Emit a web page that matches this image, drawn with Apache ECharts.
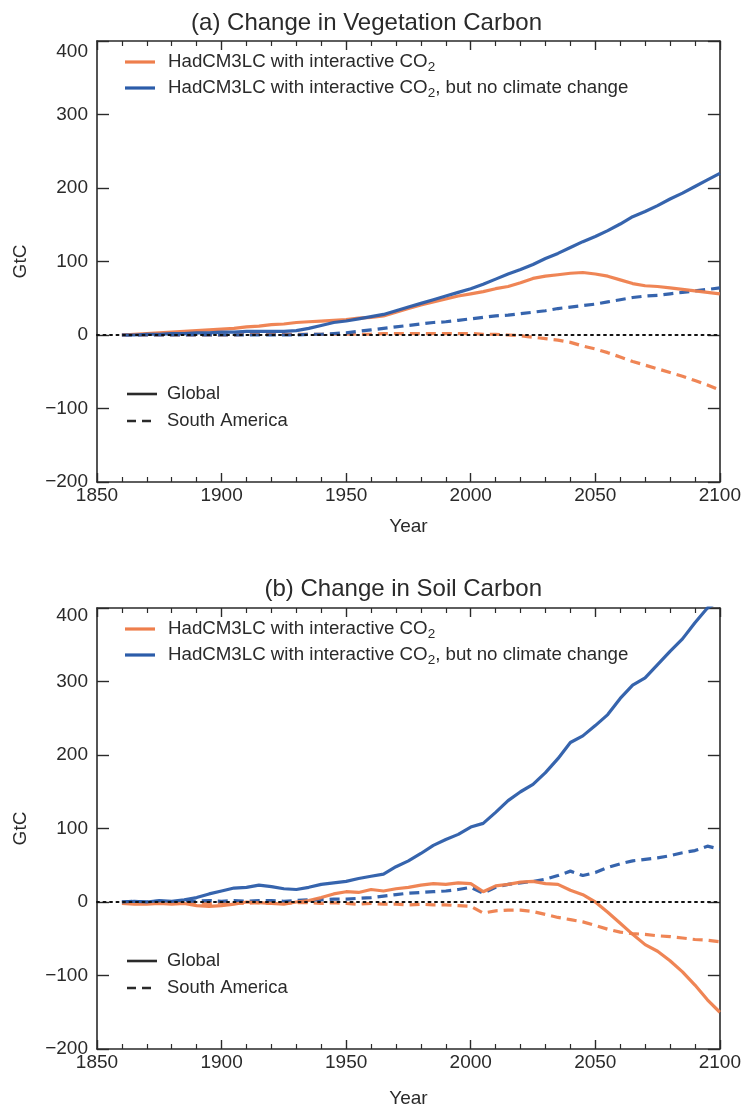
<!DOCTYPE html>
<html>
<head>
<meta charset="utf-8">
<script src="https://cdn.jsdelivr.net/npm/echarts@6/dist/echarts.min.js"></script>
<style>
html,body{margin:0;padding:0;background:#fff;}
#chart{width:744px;height:1111px;}
</style>
</head>
<body>
<div id="chart"></div>
<script>
// ---------- DATA ----------
const years = [1860,1865,1870,1875,1880,1885,1890,1895,1900,1905,1910,1915,1920,1925,1930,1935,1940,1945,1950,1955,1960,1965,1970,1975,1980,1985,1990,1995,2000,2005,2010,2015,2020,2025,2030,2035,2040,2045,2050,2055,2060,2065,2070,2075,2080,2085,2090,2095,2100];

// (a) Change in Vegetation Carbon (GtC)
const vegGlobalInteractive = [0,1,2,3,4,5,6,7,8,9,11,12,14,15,17,18,19,20,21,23,24,26,31,36,41,45,49,53,56,59,63,66,71,77,80,82,84,85,83,80,75,70,67,66,64,62,60,58,56];
const vegGlobalNoCC        = [0,0,1,1,2,2,3,3,4,4,5,5,5,5,6,9,13,17,19,22,25,28,33,38,43,48,53,58,63,69,76,83,89,96,104,111,119,127,134,142,151,161,168,176,185,193,202,211,220];
const vegSAInteractive     = [0,0,0,0,0,0,0,0,0,0,1,1,1,1,1,1,1,1,1,1,1,2,2,2,2,2,2,2,2,1,1,0,-1,-3,-5,-7,-10,-15,-19,-24,-30,-36,-41,-46,-51,-56,-62,-68,-75];
const vegSANoCC            = [0,0,0,0,0,0,0,0,0,0,0,0,0,0,0,1,1,2,3,5,7,9,11,13,15,17,18,20,22,24,26,27,29,31,33,36,38,40,42,45,48,51,53,54,56,58,60,62,64];

// (b) Change in Soil Carbon (GtC)
const soilGlobalInteractive = [-2,-3,-3,-2,-3,-2,-5,-6,-5,-3,0,-1,-2,-3,0,2,6,11,14,13,17,15,18,20,23,25,24,26,25,14,22,24,27,28,25,24,16,10,0,-14,-29,-44,-58,-67,-80,-95,-113,-133,-150];
const soilGlobalNoCC        = [0,1,0,2,1,3,6,11,15,19,20,23,21,18,17,20,24,26,28,32,35,38,48,56,66,77,85,92,102,107,122,138,150,160,176,195,217,226,240,255,277,295,305,323,341,358,380,400,410];
const soilSAInteractive     = [0,-1,-1,-1,0,-1,-1,-2,-1,-1,-2,-1,-2,-2,-1,-1,-2,-1,-2,-3,-2,-3,-3,-4,-3,-4,-4,-5,-6,-15,-12,-11,-11,-13,-17,-21,-24,-27,-32,-37,-41,-43,-44,-46,-47,-49,-51,-52,-54];
const soilSANoCC            = [0,1,0,1,0,1,1,2,1,2,1,2,2,1,2,3,3,4,4,5,6,8,10,12,13,14,15,17,20,12,20,24,26,28,31,36,42,36,40,47,52,56,58,60,63,67,70,76,72];

// axis / text
const panelTitles = ['(a) Change in Vegetation Carbon', '(b) Change in Soil Carbon'];
const xName = 'Year';
const yName = 'GtC';
const seriesLabels = ['HadCM3LC with interactive CO', ', but no climate change'];
const styleLabels = ['Global', 'South America'];

// ---------- STYLE ----------
const ORANGE = '#EE7E4C';
const BLUE = '#2B5CA9';
const INK = '#2a2a2a';
const FONT = '"Liberation Sans", Arial, Helvetica, sans-serif';

const grids = [
  {left: 97, right: 24, top: 41, height: 441},
  {left: 97, right: 24, top: 608, height: 441}
];

function pairs(arr){ return years.map((y,i)=>[y, arr[i]]); }

function xAxes(gi){
  const base = {
    type: 'value', gridIndex: gi, min: 1850, max: 2100, interval: 50,
    axisLine: {show: true, onZero: false, lineStyle: {color: INK, width: 1.6}},
    axisTick: {show: true, inside: true, length: 9, lineStyle: {color: INK, width: 1.4}},
    minorTick: {show: true, splitNumber: 5, length: 5, lineStyle: {color: INK, width: 1.2}},
    splitLine: {show: false}, minorSplitLine: {show: false}
  };
  return [
    Object.assign({}, base, {
      position: 'bottom',
      name: xName, nameLocation: 'middle', nameGap: gi === 0 ? 35 : 40,
      nameTextStyle: {fontFamily: FONT, fontSize: 19, color: INK},
      axisLabel: {show: true, fontFamily: FONT, fontSize: 19, color: INK, margin: 4,
                  formatter: v => String(v)}
    }),
    Object.assign({}, base, {position: 'top', axisLabel: {show: false}})
  ];
}

function yAxes(gi){
  const base = {
    type: 'value', gridIndex: gi, min: -200, max: 400, interval: 100,
    axisLine: {show: true, onZero: false, lineStyle: {color: INK, width: 1.6}},
    axisTick: {show: true, inside: true, length: 12, lineStyle: {color: INK, width: 1.4}},
    splitLine: {show: false}
  };
  return [
    Object.assign({}, base, {
      position: 'left',
      name: yName, nameLocation: 'middle', nameGap: 67, nameRotate: 90,
      nameTextStyle: {fontFamily: FONT, fontSize: 19, color: INK},
      axisLabel: {
        show: true, fontFamily: FONT, fontSize: 19, color: INK, margin: 9,
        formatter: v => v === 400 ? '{dn|400}' : (v < 0 ? '\u2212' + Math.abs(v) : String(v)),
        rich: {dn: {fontFamily: FONT, fontSize: 19, color: INK, padding: [gi === 0 ? 22 : 16, 0, 0, 0]}}
      }
    }),
    Object.assign({}, base, {position: 'right', axisLabel: {show: false}})
  ];
}

function lineSeries(gi, data, color, dashed, withZero){
  const s = {
    type: 'line', xAxisIndex: gi * 2, yAxisIndex: gi * 2,
    data: pairs(data), showSymbol: false, symbol: 'none', clip: true,
    lineStyle: {color: color, width: 3.2, type: dashed ? [10, 6] : 'solid', opacity: 0.95},
    silent: true, animation: false
  };
  if (withZero) {
    s.markLine = {
      silent: true, symbol: 'none', label: {show: false},
      lineStyle: {color: '#111', width: 2, type: [2, 4.5], cap: 'round'},
      data: [{yAxis: 0}], animation: false
    };
  }
  return s;
}

// legend graphics (relative to each grid)
function legendGraphics(gi){
  const top = grids[gi].top;
  const g = [];
  const ts = {fontFamily: FONT, fontSize: 18.4, fill: INK};
  const rich = {
    t: {fontFamily: FONT, fontSize: 18.7, fill: INK, color: INK},
    s: {fontFamily: FONT, fontSize: 13.5, fill: INK, color: INK, padding: [10, 0, 0, 0]}
  };
  const rows = [
    {y: top + 21, color: ORANGE, text: '{t|' + seriesLabels[0] + '}{s|2}'},
    {y: top + 47, color: BLUE, text: '{t|' + seriesLabels[0] + '}{s|2}{t|' + seriesLabels[1] + '}'}
  ];
  rows.forEach(r => {
    g.push({type: 'line', shape: {x1: 125, y1: r.y, x2: 155, y2: r.y}, style: {stroke: r.color, lineWidth: 3.2}, silent: true});
    g.push({type: 'text', x: 168, y: r.y, style: {text: r.text, rich: rich, verticalAlign: 'middle', fill: INK, font: '18.7px ' + FONT}, silent: true});
  });
  const srows = [
    {y: top + 353, dash: null, text: styleLabels[0]},
    {y: top + 380, dash: [9, 6], text: styleLabels[1]}
  ];
  srows.forEach(r => {
    g.push({type: 'line', shape: {x1: 127, y1: r.y, x2: 157, y2: r.y}, style: {stroke: INK, lineWidth: 2.6, lineDash: r.dash}, silent: true});
    g.push({type: 'text', x: 167, y: r.y, style: Object.assign({text: r.text, verticalAlign: 'middle'}, ts), silent: true});
  });
  return g;
}

const option = {
  animation: false,
  backgroundColor: '#ffffff',
  title: [
    {text: panelTitles[0], right: 197, top: 6, textStyle: {fontFamily: FONT, fontSize: 24, fontWeight: 'normal', color: INK}},
    {text: panelTitles[1], right: 197, top: 572, textStyle: {fontFamily: FONT, fontSize: 24, fontWeight: 'normal', color: INK}}
  ],
  grid: grids,
  xAxis: [...xAxes(0), ...xAxes(1)],
  yAxis: [...yAxes(0), ...yAxes(1)],
  series: [
    lineSeries(0, vegSAInteractive, ORANGE, true, false),
    lineSeries(0, vegSANoCC, BLUE, true, false),
    lineSeries(0, vegGlobalInteractive, ORANGE, false, false),
    lineSeries(0, vegGlobalNoCC, BLUE, false, true),
    lineSeries(1, soilSAInteractive, ORANGE, true, false),
    lineSeries(1, soilSANoCC, BLUE, true, false),
    lineSeries(1, soilGlobalInteractive, ORANGE, false, false),
    lineSeries(1, soilGlobalNoCC, BLUE, false, true)
  ],
  graphic: [...legendGraphics(0), ...legendGraphics(1)]
};

const chart = echarts.init(document.getElementById('chart'), null, {renderer: 'canvas'});
chart.setOption(option);
</script>
</body>
</html>
